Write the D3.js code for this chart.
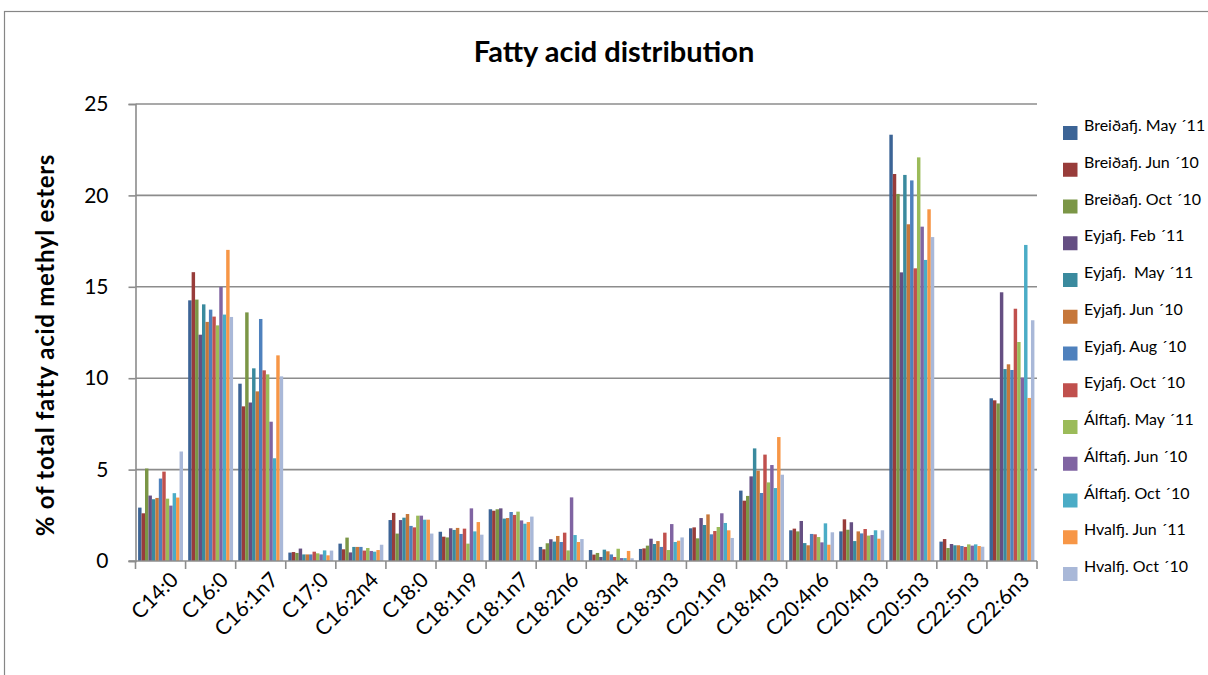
<!DOCTYPE html>
<html>
<head>
<meta charset="utf-8">
<script src="https://cdn.jsdelivr.net/npm/d3@7"></script>
<style>
  html, body { margin: 0; padding: 0; background: #ffffff; }
  svg { display: block; font-family: Lato, "Open Sans", "DejaVu Sans", sans-serif; }
  .legend text { white-space: pre; }
</style>
</head>
<body>
<svg id="chart" width="1208" height="675"></svg>
<script>
// Fatty acids on the category axis
const categories = ["C14:0", "C16:0", "C16:1n7", "C17:0", "C16:2n4", "C18:0", "C18:1n9", "C18:1n7",
  "C18:2n6", "C18:3n4", "C18:3n3", "C20:1n9", "C18:4n3", "C20:4n6", "C20:4n3", "C20:5n3", "C22:5n3", "C22:6n3"];

// % of total fatty acid methyl esters, one array per sample
const breidafjMay11 = [2.92, 14.26, 9.70, 0.46, 0.95, 2.24, 1.60, 2.83, 0.77, 0.60, 0.66, 1.79, 3.85, 1.68, 1.62, 23.32, 1.06, 8.90];
const breidafjJun10 = [2.61, 15.80, 8.46, 0.49, 0.64, 2.63, 1.33, 2.75, 0.64, 0.35, 0.69, 1.84, 3.30, 1.77, 2.28, 21.17, 1.20, 8.79];
const breidafjOct10 = [5.06, 14.30, 13.60, 0.44, 1.28, 1.50, 1.29, 2.83, 0.97, 0.44, 0.84, 1.24, 3.56, 1.62, 1.71, 20.08, 0.71, 8.62];
const eyjafjFeb11   = [3.58, 12.38, 8.67, 0.68, 0.47, 2.24, 1.79, 2.88, 1.19, 0.22, 1.22, 2.35, 4.63, 2.19, 2.12, 15.79, 0.93, 14.70];
const eyjafjMay11   = [3.38, 14.04, 10.54, 0.36, 0.77, 2.37, 1.70, 2.32, 1.06, 0.62, 0.93, 1.97, 6.16, 0.98, 1.09, 21.12, 0.86, 10.50];
const eyjafjJun10   = [3.45, 13.08, 9.28, 0.36, 0.77, 2.57, 1.81, 2.35, 1.37, 0.53, 1.09, 2.55, 4.94, 0.86, 1.62, 18.42, 0.86, 10.76];
const eyjafjAug10   = [4.51, 13.75, 13.24, 0.36, 0.77, 1.92, 1.48, 2.68, 1.04, 0.36, 0.77, 1.46, 3.72, 1.48, 1.51, 20.82, 0.82, 10.45];
const eyjafjOct10   = [4.89, 13.37, 10.43, 0.51, 0.57, 1.84, 1.77, 2.52, 1.55, 0.22, 1.55, 1.64, 5.82, 1.46, 1.75, 16.01, 0.77, 13.80];
const alftafjMay11  = [3.41, 12.89, 10.21, 0.42, 0.71, 2.48, 0.95, 2.70, 0.58, 0.67, 0.60, 1.86, 4.30, 1.31, 1.39, 22.08, 0.91, 11.98];
const alftafjJun10  = [3.03, 14.99, 7.62, 0.36, 0.55, 2.48, 2.88, 2.22, 3.48, 0.16, 2.02, 2.61, 5.25, 1.02, 1.42, 18.29, 0.84, 10.03];
const alftafjOct10  = [3.71, 13.48, 5.62, 0.58, 0.51, 2.26, 1.62, 2.04, 1.42, 0.16, 1.04, 2.08, 3.99, 2.06, 1.68, 16.47, 0.91, 17.29];
const hvalfjJun11   = [3.47, 17.02, 11.25, 0.31, 0.60, 2.26, 2.13, 2.13, 1.04, 0.55, 1.11, 1.68, 6.78, 0.89, 1.22, 19.24, 0.82, 8.92];
const hvalfjOct10   = [5.99, 13.35, 10.10, 0.57, 0.89, 1.50, 1.44, 2.43, 1.20, 0.15, 1.29, 1.26, 4.72, 1.57, 1.68, 17.72, 0.78, 13.17];

const seriesNames = ["Breiðafj. May ´11", "Breiðafj. Jun ´10", "Breiðafj. Oct ´10", "Eyjafj. Feb ´11",
  "Eyjafj.  May ´11", "Eyjafj. Jun ´10", "Eyjafj. Aug ´10", "Eyjafj. Oct ´10", "Álftafj. May ´11",
  "Álftafj. Jun ´10", "Álftafj. Oct ´10", "Hvalfj. Jun ´11", "Hvalfj. Oct ´10"];
const seriesValues = [breidafjMay11, breidafjJun10, breidafjOct10, eyjafjFeb11, eyjafjMay11, eyjafjJun10,
  eyjafjAug10, eyjafjOct10, alftafjMay11, alftafjJun10, alftafjOct10, hvalfjJun11, hvalfjOct10];
const seriesColors = ["#3c6496", "#983c3a", "#7b9646", "#654f83", "#3a8a9e", "#c6773a", "#4f81bd",
  "#c0504d", "#9bbb59", "#8064a2", "#4bacc6", "#f79646", "#a9b8d8"];

const yTicks = [0, 5, 10, 15, 20, 25];

const svg = d3.select("#chart");

// chart frame
svg.append("rect")
  .attr("x", 4.5).attr("y", 11.5)
  .attr("width", 1300).attr("height", 700)
  .attr("fill", "#ffffff").attr("stroke", "#868686").attr("stroke-width", 1.2);

const plot = { left: 135.5, right: 1037, top: 104, bottom: 561 };

const x0 = d3.scaleBand().domain(categories).range([plot.left, plot.right]).paddingInner(0).paddingOuter(0);
const x1 = d3.scaleBand().domain(d3.range(seriesNames.length)).range([0, x0.bandwidth()])
  .paddingInner(0).paddingOuter(0.75);
const y = d3.scaleLinear().domain([0, 25]).range([plot.bottom, plot.top]);

// horizontal gridlines
svg.append("g")
  .selectAll("line")
  .data(yTicks.filter(t => t > 0))
  .join("line")
  .attr("x1", plot.left).attr("x2", plot.right)
  .attr("y1", d => y(d)).attr("y2", d => y(d))
  .attr("stroke", "#8c8c8c").attr("stroke-width", 1.6);

// bars
const bars = svg.append("g");
seriesValues.forEach((vals, s) => {
  bars.append("g")
    .attr("fill", seriesColors[s])
    .selectAll("rect")
    .data(vals.map((v, i) => ({ cat: categories[i], v })))
    .join("rect")
    .attr("x", d => x0(d.cat) + x1(s))
    .attr("width", x1.bandwidth())
    .attr("y", d => y(d.v))
    .attr("height", d => y(0) - y(d.v));
});

// y axis
const yAxis = svg.append("g")
  .attr("transform", `translate(${plot.left},0)`)
  .call(d3.axisLeft(y).tickValues(yTicks).tickSize(7).tickPadding(20).tickFormat(d3.format("d")));
yAxis.select(".domain").attr("stroke", "#8c8c8c").attr("stroke-width", 1.6);
yAxis.selectAll(".tick line").attr("stroke", "#8c8c8c").attr("stroke-width", 1.6);
yAxis.selectAll(".tick text").attr("font-size", 21).attr("fill", "#000")
  .attr("font-family", "Lato, sans-serif");

// x axis
const xAxis = svg.append("g")
  .attr("transform", `translate(0,${plot.bottom})`)
  .call(d3.axisBottom(x0).tickSize(0).tickFormat(""));
xAxis.select(".domain").remove();
svg.append("line")
  .attr("x1", plot.left - 7).attr("x2", plot.right)
  .attr("y1", plot.bottom).attr("y2", plot.bottom)
  .attr("stroke", "#8c8c8c").attr("stroke-width", 1.6);
// category boundary tick marks
svg.append("g")
  .selectAll("line")
  .data(d3.range(categories.length + 1))
  .join("line")
  .attr("x1", i => plot.left + i * x0.step()).attr("x2", i => plot.left + i * x0.step())
  .attr("y1", plot.bottom).attr("y2", plot.bottom + 8)
  .attr("stroke", "#8c8c8c").attr("stroke-width", 1.6);

// rotated category labels
svg.append("g")
  .selectAll("text")
  .data(categories)
  .join("text")
  .attr("transform", d => `translate(${x0(d) + x0.bandwidth() / 2 + 13},${plot.bottom + 14}) rotate(-45)`)
  .attr("text-anchor", "end")
  .attr("dominant-baseline", "central")
  .attr("font-size", 21)
  .attr("fill", "#000")
  .text(d => d);

// title
svg.append("text")
  .attr("x", 614).attr("y", 62)
  .attr("text-anchor", "middle")
  .attr("font-size", 29).attr("font-weight", "bold")
  .text("Fatty acid distribution");

// y axis title
svg.append("text")
  .attr("transform", `translate(54,345) rotate(-90)`)
  .attr("text-anchor", "middle")
  .attr("font-size", 24).attr("font-weight", "bold")
  .attr("letter-spacing", 0.7)
  .text("% of total fatty acid methyl esters");

// legend
const legend = svg.append("g").attr("class", "legend");
const legendItem = legend.selectAll("g")
  .data(seriesNames)
  .join("g")
  .attr("transform", (d, i) => `translate(1063,${133 + i * 36.75})`);
legendItem.append("rect")
  .attr("x", 0).attr("y", -7).attr("width", 14.5).attr("height", 14)
  .attr("fill", (d, i) => seriesColors[i]);
legendItem.append("text")
  .attr("x", 21).attr("y", -2)
  .attr("font-size", 16)
  .attr("fill", "#000")
  .text(d => d);
</script>
</body>
</html>
